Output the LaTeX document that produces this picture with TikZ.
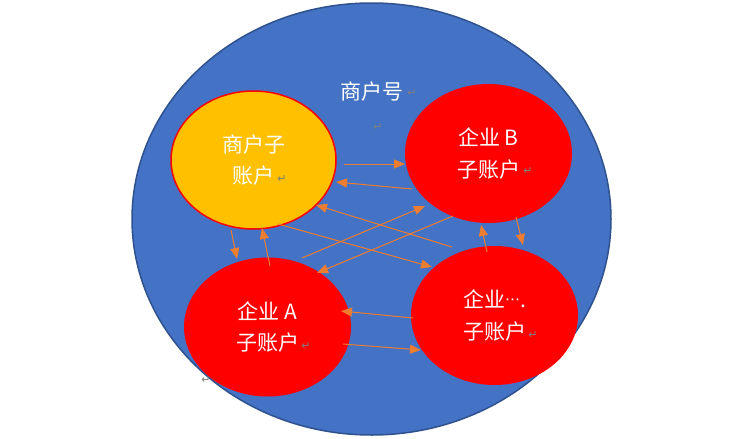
\documentclass[tikz,border=0pt]{standalone}
\usepackage{fontspec}
\newfontfamily\cjk{Noto Sans CJK SC}
\newfontfamily\dvs{DejaVu Sans}
\usetikzlibrary{arrows.meta,shapes.geometric}
\definecolor{bg}{HTML}{4472C4}
\definecolor{bgline}{HTML}{2F528F}
\definecolor{gold}{HTML}{FFC000}
\definecolor{arr}{HTML}{ED7D31}
\definecolor{pm}{HTML}{7F7F7F}
\tikzset{
  acct/.style={ellipse, inner sep=0pt, minimum width=167pt, minimum height=139pt,
    fill=red, text=white, align=center, font=\cjk\fontsize{21}{31.5}\selectfont},
  flow/.style={draw=arr, line width=1pt, -{Triangle[length=11pt,width=9pt]}},
  pmark/.style={text=pm, font=\dvs\fontsize{11}{11}\selectfont, inner sep=0pt},
}
\begin{document}
\begin{tikzpicture}[x=1pt,y=-1pt]
\fill[white] (0,0) rectangle (756,439);
\useasboundingbox (0,0) rectangle (756,439);
\node[ellipse, draw=bgline, line width=1.5pt, fill=bg, minimum width=479pt,
  minimum height=432pt, inner sep=0pt] (shop) at (371.5,219) {};
\node[text=white, font=\cjk\fontsize{21}{24}\selectfont, inner sep=0pt] (title) at (371.5,92) {商户号};
\node[acct, fill=gold, draw=red, line width=1.5pt, minimum width=165pt, minimum height=138pt] (sub) at (253.5,160) {商户子\\账户};
\node[acct] (B) at (488.5,153.5) {企业 B\\子账户};
\node[acct] (A) at (267.5,327) {企业 A\\子账户};
\node[acct] (N) at (494.5,315.5) {企业\raisebox{3pt}{\dvs\fontsize{15}{15}\selectfont ⋯}.\\子账户};
% paragraph marks
\node[pmark] (m1) at (412,93) {↵};
\node[pmark] (m2) at (378,127) {↵};
\node[pmark] (m3) at (282,179) {↵};
\node[pmark] (m4) at (528,171) {↵};
\node[pmark] (m5) at (306,346) {↵};
\node[pmark] (m6) at (533,335) {↵};
\node[pmark] (m7) at (206,380) {↵};
% arrow end points
\coordinate (a1s) at (344,164); \coordinate (a1e) at (405,164);
\coordinate (a2s) at (412,189); \coordinate (a2e) at (336,182);
\coordinate (a3s) at (231,230); \coordinate (a3e) at (237,259);
\coordinate (a4s) at (270,266); \coordinate (a4e) at (262,228);
\coordinate (a5s) at (278,224); \coordinate (a5e) at (432,267);
\coordinate (a6s) at (452,247); \coordinate (a6e) at (316,205);
\coordinate (a7s) at (302,258); \coordinate (a7e) at (425,206);
\coordinate (a8s) at (453,216); \coordinate (a8e) at (317,273);
\coordinate (a9s) at (516,217); \coordinate (a9e) at (523,245);
\coordinate (a10s) at (487,252); \coordinate (a10e) at (481,225);
\coordinate (a11s) at (413,318); \coordinate (a11e) at (341,311);
\coordinate (a12s) at (343,344); \coordinate (a12e) at (421,350);
\foreach \i in {1,...,12} { \draw[flow] (a\i s) -- (a\i e); }
\end{tikzpicture}
\end{document}
